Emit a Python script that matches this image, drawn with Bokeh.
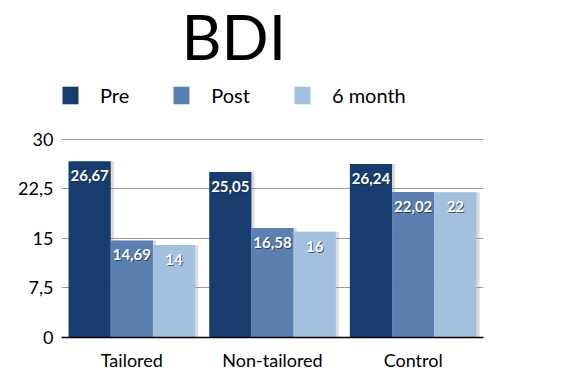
from bokeh.plotting import figure
from bokeh.models import ColumnDataSource, FixedTicker, Legend, LegendItem, Label
from bokeh.transform import dodge
from bokeh.core.properties import value
from bokeh.embed import file_html
from bokeh.resources import INLINE

groups = ["Tailored", "Non-tailored", "Control"]
series = ["Pre", "Post", "6 month"]
pre = [26.67, 25.05, 26.24]
post = [14.69, 16.58, 22.02]
six_month = [14, 16, 22]
pre_lbl = ["26,67", "25,05", "26,24"]
post_lbl = ["14,69", "16,58", "22,02"]
six_lbl = ["14", "16", "22"]
yticks = [0, 7.5, 15, 22.5, 30]
ytick_labels = ["0", "7,5", "15", "22,5", "30"]
colors = ["#173d6f", "#5b80b0", "#a3c1de"]
title_text = "BDI"

FONT = "Lato"

src = ColumnDataSource(dict(g=groups, pre=pre, post=post, six=six_month,
                            pre_l=pre_lbl, post_l=post_lbl, six_l=six_lbl))

# frame spans from the very top so title & legend can live inside it;
# the value axis only shows 0..30 (30 sits ~199 px above the baseline)
p = figure(x_range=groups, y_range=(0, 51), width=553, height=373,
           output_backend="svg", toolbar_location=None,
           min_border_left=61, min_border_right=70, min_border_bottom=34,
           min_border_top=0)
p.outline_line_color = None
p.background_fill_color = "white"
p.border_fill_color = "white"

cols = ["pre", "post", "six"]
lcols = ["pre_l", "post_l", "six_l"]
offs = [-0.3, 0.0, 0.3]

p.xgrid.grid_line_color = None
p.ygrid.ticker = FixedTicker(ticks=yticks)
p.ygrid.grid_line_color = "#9a9a9a"
p.ygrid.grid_line_width = 1

rends = []
# subtle shadows
for c, o in zip(cols, offs):
    p.vbar(x=dodge("g", o + 0.022, range=p.x_range), top=c, width=0.3, source=src,
           fill_color="#8a8a8a", fill_alpha=0.3, line_color=None)
for c, o, col in zip(cols, offs, colors):
    r = p.vbar(x=dodge("g", o, range=p.x_range), top=c, width=0.3, source=src,
               fill_color=col, line_color=None)
    rends.append(r)
for c, lc, o in zip(cols, lcols, offs):
    p.text(x=dodge("g", o, range=p.x_range), y=c, text=lc, source=src,
           text_color="#1c2b44", text_alpha=0.7, text_font=value(FONT), text_font_size="15px",
           text_font_style="bold", text_align="center", text_baseline="top",
           x_offset=1, y_offset=10)
    p.text(x=dodge("g", o, range=p.x_range), y=c, text=lc, source=src,
           text_color="white", text_font=value(FONT), text_font_size="15px",
           text_font_style="bold", text_align="center", text_baseline="top",
           y_offset=9)

p.yaxis.ticker = FixedTicker(ticks=yticks)
p.yaxis.major_label_overrides = {t: l for t, l in zip(yticks, ytick_labels)}
p.yaxis.axis_line_color = None
p.yaxis.major_tick_line_color = None
p.yaxis.minor_tick_line_color = None
p.yaxis.major_tick_out = 0
p.yaxis.major_tick_in = 0
p.yaxis.major_label_text_font = FONT
p.yaxis.major_label_text_font_size = "18px"
p.yaxis.major_label_text_color = "black"
p.yaxis.major_label_standoff = 8

p.xaxis.axis_line_color = "black"
p.xaxis.axis_line_width = 1.5
p.xaxis.major_tick_line_color = None
p.xaxis.major_tick_out = 0
p.xaxis.major_tick_in = 0
p.xaxis.major_label_text_font = FONT
p.xaxis.major_label_text_font_size = "18px"
p.xaxis.major_label_text_color = "black"
p.xaxis.major_label_standoff = 11

legend = Legend(items=[LegendItem(label=s, renderers=[r]) for s, r in zip(series, rends)],
                orientation="horizontal", location=(-1, 230),
                glyph_width=20, glyph_height=22, label_standoff=20, spacing=42,
                label_text_font=FONT, label_text_font_size="20px",
                label_text_color="black", padding=0, margin=0,
                border_line_color=None, background_fill_alpha=0)
p.add_layout(legend)

p.add_layout(Label(x=120, y=302, x_units="screen", y_units="screen", text=title_text,
                   text_font=FONT, text_font_size="62px", text_color="black",
                   text_baseline="alphabetic"))

open("out.html", "w").write(file_html(p, INLINE))
